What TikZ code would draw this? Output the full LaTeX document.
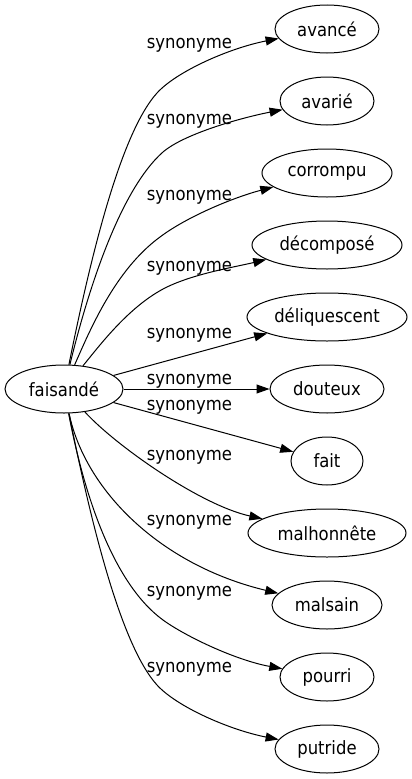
\documentclass[tikz,border=0pt]{standalone}
\usepackage{fontspec}
\setmainfont{DejaVu Sans Condensed}
\usetikzlibrary{arrows.meta,shapes.geometric}
\begin{document}
\begin{tikzpicture}[x=1pt,y=-1pt,
  every node/.style={font=\fontsize{18.3}{20}\selectfont},
  word/.style={ellipse,draw,line width=1pt,inner sep=0pt,minimum height=48pt},
  lbl/.style={inner sep=0pt},
  syn/.style={draw,line width=1pt,-{Triangle[length=13pt,width=9pt]}}]
\useasboundingbox (0,0) rectangle (412,779);
% nodes
\node[word,minimum width=118pt] (faisande) at (64,389) {faisandé};
\node[word,minimum width=104pt] (avance) at (327,29) {avancé};
\node[word,minimum width=94pt] (avarie) at (327,101) {avarié};
\node[word,minimum width=130pt] (corrompu) at (327,173) {corrompu};
\node[word,minimum width=150pt] (decompose) at (327,245) {décomposé};
\node[word,minimum width=160pt] (deliquescent) at (327,317) {déliquescent};
\node[word,minimum width=114pt] (douteux) at (327,389) {douteux};
\node[word,minimum width=72pt] (fait) at (327,461) {fait};
\node[word,minimum width=158pt] (malhonnete) at (327,533) {malhonnête};
\node[word,minimum width=110pt] (malsain) at (327,605) {malsain};
\node[word,minimum width=94pt] (pourri) at (327,677) {pourri};
\node[word,minimum width=104pt] (putride) at (327,749) {putride};
% labels
\node[lbl] (l1) at (189.5,45) {synonyme};
\node[lbl] (l2) at (189.5,121) {synonyme};
\node[lbl] (l3) at (189.5,197) {synonyme};
\node[lbl] (l4) at (189.5,268) {synonyme};
\node[lbl] (l5) at (189.5,335) {synonyme};
\node[lbl] (l6) at (189.5,381) {synonyme};
\node[lbl] (l7) at (189.5,407.5) {synonyme};
\node[lbl] (l8) at (189.5,457) {synonyme};
\node[lbl] (l9) at (189.5,522) {synonyme};
\node[lbl] (l10) at (189.5,593) {synonyme};
\node[lbl] (l11) at (189.5,669) {synonyme};
% edges
\draw[syn] (faisande) .. controls (90,260) and (120,134) .. (157,93) .. controls (177,71) and (230,48) .. (avance);
\draw[syn] (faisande) .. controls (88,290) and (120,190) .. (163,152) .. controls (184,134) and (240,118) .. (avarie);
\draw[syn] (faisande) .. controls (90,330) and (115,270) .. (160,237) .. controls (188,216) and (235,197) .. (corrompu);
\draw[syn] (faisande) .. controls (100,345) and (130,305) .. (167,287) .. controls (195,273.5) and (235,267) .. (decompose);
\draw[syn] (faisande) -- (deliquescent);
\draw[syn] (faisande) -- (douteux);
\draw[syn] (faisande) -- (fait);
\draw[syn] (faisande) .. controls (115,445) and (200,505) .. (malhonnete);
\draw[syn] (faisande) .. controls (85,490) and (160,565) .. (malsain);
\draw[syn] (faisande) .. controls (85,500) and (115,585) .. (163,620) .. controls (185,636) and (235,660) .. (pourri);
\draw[syn] (faisande) .. controls (90,518) and (120,644) .. (157,685) .. controls (177,707) and (230,730) .. (putride);
\end{tikzpicture}
\end{document}
